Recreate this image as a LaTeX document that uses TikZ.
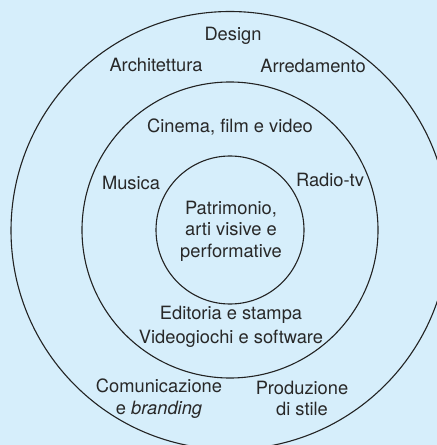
\documentclass[tikz,border=0pt]{standalone}
\usepackage{fontspec}
\setmainfont{TeX Gyre Heros}
\definecolor{bgblue}{RGB}{214,238,251}
\definecolor{ink}{RGB}{34,34,34}
\definecolor{txt}{RGB}{40,40,40}
\begin{document}
\begin{tikzpicture}[x=1bp,y=-1bp,
  ring/.style={draw=ink,line width=1.1bp},
  lbl/.style={text=txt,font=\fontsize{18.3bp}{21.5bp}\selectfont,align=center,inner sep=0pt}]
\fill[bgblue] (0,0) rectangle (437,445);
\useasboundingbox (0,0) rectangle (437,445);
\begin{scope}
\clip (0,0) rectangle (437,445);
\draw[ring] (230,230.5) circle[radius=219];
\draw[ring] (230,230) circle[radius=148];
\draw[ring] (230,230) circle[radius=74];
\end{scope}
\node[lbl] (design) at (233,36) {Design};
\node[lbl] (archi) at (156,65) {Architettura};
\node[lbl] (arred) at (313,66) {Arredamento};
\node[lbl] (cinema) at (230,127) {Cinema, film e video};
\node[lbl] (musica) at (131,183) {Musica};
\node[lbl] (radio) at (330,180) {Radio-tv};
\node[lbl] (patr) at (231,231) {Patrimonio,\\arti visive e\\performative};
\node[lbl] (edit) at (231,315) {Editoria e stampa};
\node[lbl] (video) at (231,339) {Videogiochi e software};
\node[lbl] (comun) at (159,398.5) {Comunicazione\\e \textit{branding}};
\node[lbl] (prod) at (302,398.5) {Produzione\\di stile};
\end{tikzpicture}
\end{document}
